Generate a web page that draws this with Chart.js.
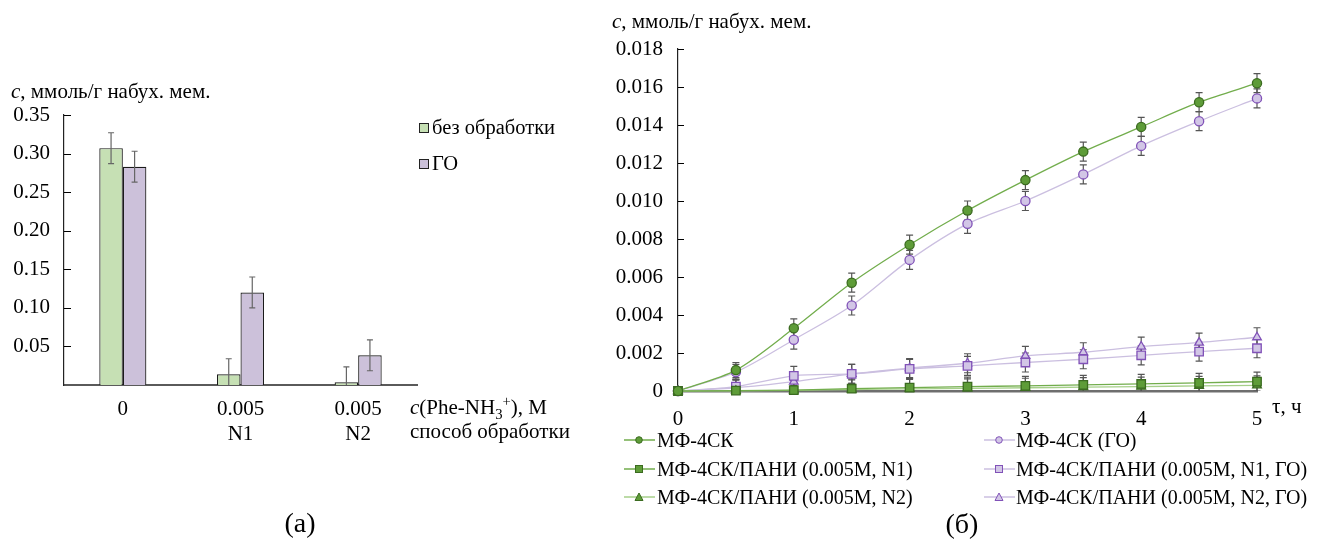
<!DOCTYPE html>
<html>
<head>
<meta charset="utf-8">
<script src="https://cdn.jsdelivr.net/npm/chart.js@4.4.0/dist/chart.umd.min.js"></script>
<style>
  body { margin: 0; background: #fff; width: 1333px; height: 554px; position: relative; overflow: hidden;
         font-family: "Liberation Serif", "Times New Roman", Tinos, "DejaVu Serif", serif; color: #000; }
  canvas { position: absolute; top: 0; }
  #barCanvas { left: 0; }
  #lineCanvas { left: 600px; }
  .txt { position: absolute; white-space: nowrap; line-height: 1; }
  .txt sub, .txt sup { font-size: 70%; line-height: 0; }
  .mid { transform: translateX(-50%); }
  .sw { position: absolute; }
</style>
</head>
<body>
<canvas id="barCanvas" width="600" height="554"></canvas>
<canvas id="lineCanvas" width="733" height="554"></canvas>

<div class="txt" style="left:11px;top:81px;font-size:21px;"><i>c</i>, ммоль/г набух. мем.</div>
<div class="txt" style="left:410px;top:397px;font-size:21px;"><i>c</i>(Phe-NH<sub>3</sub><sup>+</sup>), M</div>
<div class="txt" style="left:410px;top:421px;font-size:21px;">способ обработки</div>
<div class="txt mid" style="left:300px;top:509px;font-size:28px;">(a)</div>
<div id="barLegend"></div>

<div class="txt" style="left:612px;top:11px;font-size:21px;"><i>c</i>, ммоль/г набух. мем.</div>
<div class="txt" style="left:1272px;top:396px;font-size:21px;">τ, ч</div>
<div class="txt mid" style="left:962px;top:510px;font-size:28px;">(б)</div>
<div id="lineLegend"></div>

<script>
// (a) bar chart data
const groups = [['0', ''], ['0.005', 'N1'], ['0.005', 'N2']];
const untreated = [0.307, 0.014, 0.0035];
const untreatedErr = [0.02, 0.02, 0.02];
const grapheneOx = [0.283, 0.120, 0.0385];
const grapheneOxErr = [0.02, 0.02, 0.02];
const barLabels = ['без обработки', 'ГО'];

// (б) kinetics data
const hours = [0, 0.5, 1, 1.5, 2, 2.5, 3, 3.5, 4, 4.5, 5];
const mf4sk = [0, 0.0011, 0.0033, 0.0057, 0.0077, 0.0095, 0.0111, 0.0126, 0.0139, 0.0152, 0.0162];
const mf4skGo = [0, 0.0010, 0.0027, 0.0045, 0.0069, 0.0088, 0.0100, 0.0114, 0.0129, 0.0142, 0.0154];
const paniN1 = [0, 0.00002, 0.00005, 0.00012, 0.00018, 0.00023, 0.00027, 0.00032, 0.00037, 0.00043, 0.00049];
const paniN1Go = [0, 0.00023, 0.0008, 0.0009, 0.00116, 0.00132, 0.0015, 0.00167, 0.00188, 0.00207, 0.00225];
const paniN2 = [0, 0.00001, 0.00003, 0.00008, 0.00011, 0.00014, 0.00017, 0.0002, 0.00023, 0.00027, 0.0003];
const paniN2Go = [0, 0.00017, 0.00049, 0.0009, 0.0012, 0.00146, 0.00185, 0.00204, 0.00234, 0.00255, 0.00283];
const mainErr = [0, 0.0004, 0.0005, 0.0005, 0.0005, 0.0005, 0.0005, 0.0005, 0.0005, 0.0005, 0.0005];
const smallErr = [0, 0.0004, 0.0005, 0.0005, 0.0005, 0.0005, 0.0005, 0.0005, 0.0005, 0.0005, 0.0005];
const lineLabels = [
  'МФ-4СК', 'МФ-4СК (ГО)',
  'МФ-4СК/ПАНИ (0.005M, N1)', 'МФ-4СК/ПАНИ (0.005M, N1, ГО)',
  'МФ-4СК/ПАНИ (0.005M, N2)', 'МФ-4СК/ПАНИ (0.005M, N2, ГО)'
];

Chart.defaults.font.family = '"Liberation Serif", "Times New Roman", Tinos, "DejaVu Serif", serif';
Chart.defaults.color = '#000';
Chart.defaults.animation = false;

// error bars, drawn under or over the marks
function drawErrors(chart, opts) {
  const { ctx, chartArea, scales } = chart;
  ctx.save();
  ctx.beginPath();
  ctx.rect(chartArea.left, 0, chartArea.right - chartArea.left + 10, chartArea.bottom);
  ctx.clip();
  ctx.strokeStyle = opts.color || '#555';
  ctx.lineWidth = opts.width || 1.2;
  chart.data.datasets.forEach((ds, di) => {
    if (!ds.errors) return;
    const meta = chart.getDatasetMeta(di);
    meta.data.forEach((el, i) => {
      const e = ds.errors[i];
      if (!e) return;
      const v = typeof ds.data[i] === 'object' ? ds.data[i].y : ds.data[i];
      const top = scales.y.getPixelForValue(v + e);
      const bot = scales.y.getPixelForValue(v - e);
      const c = opts.cap || 3;
      ctx.beginPath();
      ctx.moveTo(el.x, top); ctx.lineTo(el.x, bot);
      ctx.moveTo(el.x - c, top); ctx.lineTo(el.x + c, top);
      ctx.moveTo(el.x - c, bot); ctx.lineTo(el.x + c, bot);
      ctx.stroke();
    });
  });
  ctx.restore();
}
const errorBars = {
  id: 'errorBars',
  beforeDatasetsDraw(chart, args, opts) { if (opts.under) drawErrors(chart, opts); },
  afterDatasetsDraw(chart, args, opts) { if (!opts.under) drawErrors(chart, opts); }
};

// tick marks pointing into the plot
const innerTicks = {
  id: 'innerTicks',
  afterDraw(chart, args, opts) {
    const { ctx, chartArea, scales: { y } } = chart;
    ctx.save();
    ctx.strokeStyle = '#000';
    ctx.lineWidth = 1;
    y.ticks.forEach(t => {
      if (t.value === 0) return;
      const py = Math.round(y.getPixelForValue(t.value)) + 0.5;
      ctx.beginPath();
      ctx.moveTo(chartArea.left, py);
      ctx.lineTo(chartArea.left + (opts.len || 7), py);
      ctx.stroke();
    });
    ctx.restore();
  }
};

const tickFont = { size: 21 };

// (a) bar chart
new Chart(document.getElementById('barCanvas'), {
  type: 'bar',
  data: {
    labels: groups,
    datasets: [{
      label: barLabels[0],
      data: untreated,
      errors: untreatedErr,
      backgroundColor: '#c6e0b4',
      borderColor: '#1a1a1a',
      borderWidth: 1.2
    }, {
      label: barLabels[1],
      data: grapheneOx,
      errors: grapheneOxErr,
      backgroundColor: '#ccc1da',
      borderColor: '#1a1a1a',
      borderWidth: 1.2
    }]
  },
  options: {
    responsive: false,
    categoryPercentage: 0.4,
    barPercentage: 1.0,
    layout: { padding: { top: 115, right: 183, left: 0, bottom: 0 } },
    plugins: {
      legend: { display: false },
      tooltip: { enabled: false },
      errorBars: { under: false, cap: 3, color: '#666', width: 1.2 },
      innerTicks: { len: 7 }
    },
    scales: {
      x: {
        grid: { display: false, drawTicks: false },
        border: { color: '#5a5a5a', width: 2 },
        ticks: { font: tickFont, padding: 12, maxRotation: 0 },
        afterFit(s) { s.height = 169; }
      },
      y: {
        min: 0,
        max: 0.35,
        grid: { display: false, drawTicks: false },
        border: { color: '#222', width: 1.2 },
        ticks: {
          stepSize: 0.05,
          font: tickFont,
          padding: 14,
          callback: v => v === 0 ? '' : v.toFixed(2)
        },
        afterFit(s) { s.width = 64; }
      }
    }
  },
  plugins: [errorBars, innerTicks]
});

// (б) line chart
const green = '#72ad4c', greenFill = '#5e9c38', greenEdge = '#3b6b20';
const lilac = '#cbbfe0', lilacFill = '#d2c6e6', lilacEdge = '#8152b8';
const toXY = arr => arr.map((v, i) => ({ x: hours[i], y: v }));

const lineSets = [
  { label: lineLabels[0], data: toXY(mf4sk), errors: mainErr, borderColor: green, pointStyle: 'circle', pointRadius: 4.6, pointBackgroundColor: greenFill, pointBorderColor: greenEdge },
  { label: lineLabels[2], data: toXY(paniN1), errors: smallErr, borderColor: green, pointStyle: 'rect', pointRadius: 6, pointBackgroundColor: greenFill, pointBorderColor: greenEdge },
  { label: lineLabels[4], data: toXY(paniN2), errors: smallErr, borderColor: '#a6cf8a', pointStyle: 'triangle', pointRadius: 5, pointBackgroundColor: greenFill, pointBorderColor: greenEdge },
  { label: lineLabels[1], data: toXY(mf4skGo), errors: mainErr, borderColor: lilac, pointStyle: 'circle', pointRadius: 4.6, pointBackgroundColor: lilacFill, pointBorderColor: lilacEdge },
  { label: lineLabels[3], data: toXY(paniN1Go), errors: smallErr, borderColor: lilac, pointStyle: 'rect', pointRadius: 6, pointBackgroundColor: lilacFill, pointBorderColor: lilacEdge },
  { label: lineLabels[5], data: toXY(paniN2Go), errors: smallErr, borderColor: lilac, pointStyle: 'triangle', pointRadius: 5, pointBackgroundColor: lilacFill, pointBorderColor: lilacEdge }
].map(d => Object.assign({ borderWidth: 1.3, pointBorderWidth: 1.3, tension: 0.3, fill: false, clip: false }, d));

new Chart(document.getElementById('lineCanvas'), {
  type: 'line',
  data: { datasets: lineSets },
  options: {
    responsive: false,
    layout: { padding: { top: 49, right: 76, left: 0, bottom: 0 } },
    plugins: {
      legend: { display: false },
      tooltip: { enabled: false },
      errorBars: { under: true, cap: 3.5, color: '#555', width: 1.2 },
      innerTicks: { len: 6 }
    },
    scales: {
      x: {
        type: 'linear',
        min: 0,
        max: 5,
        grid: { display: false, drawTicks: false },
        border: { color: '#6e6e6e', width: 2.5 },
        ticks: { stepSize: 1, font: tickFont, padding: 16 },
        afterFit(s) { s.height = 163; }
      },
      y: {
        min: 0,
        max: 0.018,
        grid: { display: false, drawTicks: false },
        border: { color: '#222', width: 1.2 },
        ticks: {
          stepSize: 0.002,
          font: tickFont,
          padding: 15,
          callback: v => Math.abs(v) < 1e-9 ? '0' : v.toFixed(3)
        },
        afterFit(s) { s.width = 78; }
      }
    }
  },
  plugins: [errorBars, innerTicks]
});

// legends
const barColors = ['#c6e0b4', '#ccc1da'];
const barLegendTop = [117, 153];
document.getElementById('barLegend').innerHTML = barLabels.map((t, i) =>
  `<div class="sw" style="left:419px;top:${barLegendTop[i] + 6}px;width:8px;height:8px;background:${barColors[i]};border:1px solid #222;"></div>` +
  `<div class="txt" style="left:432px;top:${barLegendTop[i]}px;font-size:20.5px;">${t}</div>`
).join('');

function marker(style, fill, edge) {
  if (style === 'circle') return `<circle cx="15" cy="6" r="3.3" fill="${fill}" stroke="${edge}" stroke-width="1"/>`;
  if (style === 'rect') return `<rect x="11.5" y="2.5" width="7" height="7" fill="${fill}" stroke="${edge}" stroke-width="1"/>`;
  return `<polygon points="15,2 19,9.5 11,9.5" fill="${fill}" stroke="${edge}" stroke-width="1"/>`;
}
const legendOrder = [0, 3, 1, 4, 2, 5];
const legendRows = [440, 468.5, 497];
let lh = '';
legendOrder.forEach((di, k) => {
  const d = lineSets[di];
  const row = Math.floor(k / 2), col = k % 2;
  const sx = col === 0 ? 624 : 984;
  const tx = col === 0 ? 657 : 1016;
  const cy = legendRows[row];
  lh += `<svg class="sw" style="left:${sx}px;top:${cy - 6}px" width="31" height="12">` +
        `<line x1="0" y1="6" x2="31" y2="6" stroke="${d.borderColor}" stroke-width="1.5"/>` +
        marker(d.pointStyle, d.pointBackgroundColor, d.pointBorderColor) + `</svg>`;
  lh += `<div class="txt" style="left:${tx}px;top:${cy - 10}px;font-size:20px;">${d.label}</div>`;
});
document.getElementById('lineLegend').innerHTML = lh;
</script>
</body>
</html>
